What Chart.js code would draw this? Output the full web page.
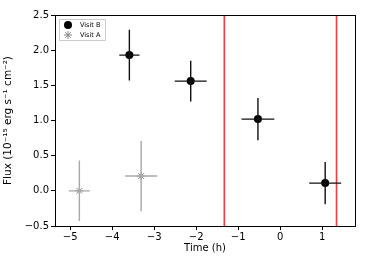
<!DOCTYPE html>
<html>
<head>
<meta charset="utf-8">
<script src="https://cdn.jsdelivr.net/npm/chart.js@4.4.0/dist/chart.umd.min.js"></script>
<style>
  html, body { margin: 0; padding: 0; background: #fff; }
  #wrap { width: 366px; height: 264px; }
</style>
</head>
<body>
<div id="wrap"><canvas id="grafico"></canvas></div>
<script>
// Datos
const visitBTime = [-3.59, -2.13, -0.53, 1.07];
const visitBFlux = [1.93, 1.56, 1.02, 0.11];
const visitBTimeErr = [0.24, 0.38, 0.39, 0.38];
const visitBFluxErr = [0.36, 0.29, 0.30, 0.30];

const visitATime = [-4.78, -3.31];
const visitAFlux = [0.0, 0.21];
const visitATimeErr = [0.25, 0.38];
const visitAFluxErr = [0.43, 0.50];

const redLines = [-1.33, 1.34];
const xTicks = [-5, -4, -3, -2, -1, 0, 1];
const yTicks = [-0.5, 0.0, 0.5, 1.0, 1.5, 2.0, 2.5];

const fmt = v => String(v).replace('-', '\u2212');

function puntos(xs, ys) {
  return xs.map((x, i) => ({ x: x, y: ys[i] }));
}

// Barras de error dibujadas con las escalas
const errorBars = {
  id: 'errorBars',
  afterDatasetsDraw(chart) {
    const ctx = chart.ctx;
    const xs = chart.scales.x, ys = chart.scales.y;
    chart.data.datasets.forEach(ds => {
      if (!ds.err) return;
      ctx.save();
      ctx.strokeStyle = ds.errColor;
      ctx.lineWidth = 1.4;
      ds.data.forEach((p, i) => {
        const px = xs.getPixelForValue(p.x), py = ys.getPixelForValue(p.y);
        ctx.beginPath();
        ctx.moveTo(xs.getPixelForValue(p.x - ds.err.x[i]), py);
        ctx.lineTo(xs.getPixelForValue(p.x + ds.err.x[i]), py);
        ctx.moveTo(px, ys.getPixelForValue(p.y - ds.err.y[i]));
        ctx.lineTo(px, ys.getPixelForValue(p.y + ds.err.y[i]));
        ctx.stroke();
      });
      ctx.restore();
    });
  }
};

// Marco y leyenda estilo matplotlib
const marco = {
  id: 'marco',
  afterDraw(chart) {
    const ctx = chart.ctx;
    const a = chart.chartArea;
    ctx.save();
    ctx.strokeStyle = '#000';
    ctx.lineWidth = 1;
    ctx.strokeRect(a.left + 0.5, a.top + 0.5, a.right - a.left, a.bottom - a.top);

    // leyenda
    const bx = a.left + 4, by = a.top + 4, bw = 46, bh = 21;
    ctx.fillStyle = 'rgba(255,255,255,0.8)';
    ctx.strokeStyle = '#ccc';
    ctx.lineWidth = 1;
    ctx.beginPath();
    ctx.rect(bx + 0.5, by + 0.5, bw, bh);
    ctx.fill();
    ctx.stroke();
    const items = [chart.data.datasets[0], chart.data.datasets[1]];
    ctx.font = '6.5px "DejaVu Sans"';
    ctx.textBaseline = 'middle';
    items.forEach((ds, i) => {
      const cy = by + 6 + i * 10;
      ctx.fillStyle = ds.backgroundColor;
      ctx.strokeStyle = ds.borderColor;
      ctx.lineWidth = ds.borderWidth || 1;
      Chart.helpers.drawPoint(ctx, {
        pointStyle: ds.pointStyle, radius: ds.pointRadius, borderWidth: ds.borderWidth
      }, bx + 9, cy);
      ctx.fillStyle = '#000';
      ctx.fillText(ds.label, bx + 21, cy);
    });
    ctx.restore();
  }
};

const lineasRojas = redLines.map(x => ({
  data: [{ x: x, y: -0.5 }, { x: x, y: 2.5 }],
  showLine: true,
  borderColor: '#f03c3c',
  borderWidth: 1.6,
  pointRadius: 0,
  order: 5
}));

const ctx = document.getElementById('grafico').getContext('2d');
window.fluxChart = new Chart(ctx, {
  type: 'scatter',
  data: {
    datasets: [
      {
        label: 'Visit B',
        data: puntos(visitBTime, visitBFlux),
        err: { x: visitBTimeErr, y: visitBFluxErr },
        errColor: '#111',
        pointStyle: 'circle',
        pointRadius: 4,
        backgroundColor: '#000',
        borderColor: '#000',
        borderWidth: 0,
        order: 1
      },
      {
        label: 'Visit A',
        data: puntos(visitATime, visitAFlux),
        err: { x: visitATimeErr, y: visitAFluxErr },
        errColor: '#a8a8a8',
        pointStyle: 'star',
        pointRadius: 4,
        backgroundColor: '#888',
        borderColor: '#888',
        borderWidth: 1,
        order: 2
      },
      ...lineasRojas
    ]
  },
  options: {
    responsive: true,
    maintainAspectRatio: false,
    animation: false,
    layout: { padding: { top: 15, right: 11, left: 0, bottom: 10 } },
    plugins: { legend: { display: false }, tooltip: { enabled: false } },
    scales: {
      x: {
        type: 'linear',
        min: -5.36,
        max: 1.78,
        afterBuildTicks: s => { s.ticks = xTicks.map(v => ({ value: v })); },
        afterFit: s => { s.height = 28; },
        grid: { drawOnChartArea: false, tickLength: 4, color: '#000' },
        border: { color: '#000' },
        ticks: {
          color: '#000', padding: 1,
          font: { family: 'DejaVu Sans', size: 10 },
          callback: v => fmt(v)
        },
        title: {
          display: true, text: 'Time (h)', color: '#000',
          font: { family: 'DejaVu Sans', size: 10 }, padding: { top: 0, bottom: 0 }
        }
      },
      y: {
        type: 'linear',
        min: -0.5,
        max: 2.5,
        afterBuildTicks: s => { s.ticks = yTicks.map(v => ({ value: v })); },
        afterFit: s => { s.width = 55; },
        grid: { drawOnChartArea: false, tickLength: 4, color: '#000' },
        border: { color: '#000' },
        ticks: {
          color: '#000', padding: 2,
          font: { family: 'DejaVu Sans', size: 10 },
          callback: v => fmt(v.toFixed(1))
        },
        title: {
          display: true, text: 'Flux (10\u207B\u00B9\u2075 erg s\u207B\u00B9 cm\u207B\u00B2)', color: '#000',
          font: { family: 'DejaVu Sans', size: 10.5 }, padding: { top: 2, bottom: 2 }
        }
      }
    }
  },
  plugins: [errorBars, marco]
});
</script>
</body>
</html>
